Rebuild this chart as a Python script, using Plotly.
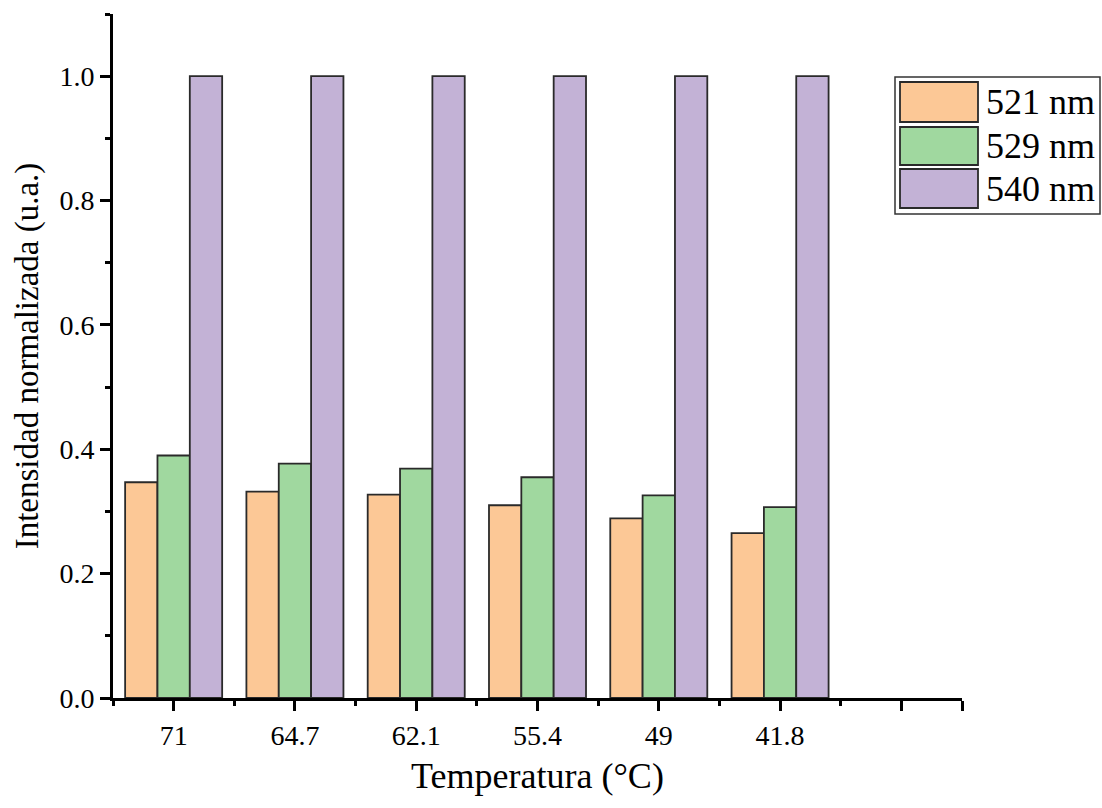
import plotly.graph_objects as go

categories = ["71", "64.7", "62.1", "55.4", "49", "41.8"]
series_names = ["521 nm", "529 nm", "540 nm"]
v521 = [0.347, 0.332, 0.327, 0.310, 0.289, 0.265]
v529 = [0.390, 0.377, 0.369, 0.355, 0.326, 0.307]
v540 = [1.0, 1.0, 1.0, 1.0, 1.0, 1.0]
colors = ["#FCC896", "#A0D89F", "#C3B2D6"]

W, H = 1102, 808
L, R, T, B = 113, 140, 14, 110
pw, ph = W - L - R, H - T - B

def px(x):
    return (x - L) / pw

def py(y):
    return (H - B - y) / ph

xs = list(range(len(categories)))
fig = go.Figure()
for name, vals, c in zip(series_names, [v521, v529, v540], colors):
    fig.add_trace(go.Bar(x=xs, y=vals, name=name, marker=dict(color=c, line=dict(color="#2a2a2a", width=1.8)),
                         showlegend=False))

serif = "Liberation Serif, Times New Roman, serif"
tickvals = list(range(len(categories) + 1)) + [len(categories) + 0.5]
ticktext = categories + ["", ""]

fig.update_layout(
    width=W, height=H,
    margin=dict(l=L, r=R, t=T, b=B),
    paper_bgcolor="white", plot_bgcolor="white",
    barmode="group", bargap=0.2, bargroupgap=0,
    font=dict(family=serif, color="black", size=28),
)
fig.update_xaxes(
    range=[-0.5, len(categories) + 0.5],
    tickmode="array", tickvals=tickvals, ticktext=ticktext,
    ticks="outside", ticklen=10, tickwidth=2.5, tickcolor="black",
    minor=dict(tickmode="linear", tick0=0.5, dtick=1, ticks="outside", ticklen=5, tickwidth=2.5, tickcolor="black"),
    showline=True, linecolor="black", linewidth=2.8, showgrid=False, zeroline=False,
    tickfont=dict(family=serif, size=28),
    title=dict(text="Temperatura (°C)", font=dict(family=serif, size=36), standoff=14),
)
fig.update_yaxes(
    range=[0, 1.1], tick0=0, dtick=0.2, tickformat=".1f",
    ticks="outside", ticklen=10, tickwidth=2.5, tickcolor="black",
    minor=dict(tick0=0, dtick=0.1, ticks="outside", ticklen=5, tickwidth=2.5, tickcolor="black"),
    showline=True, linecolor="black", linewidth=2.8, showgrid=False, zeroline=False,
    tickfont=dict(family=serif, size=28),
    title=dict(text="Intensidad normalizada (u.a.)", font=dict(family=serif, size=33), standoff=11),
)

# manual legend
fig.add_shape(type="rect", xref="paper", yref="paper", x0=px(895), x1=px(1100), y0=py(214), y1=py(77),
              line=dict(color="#333333", width=1.5), fillcolor="white")
rows = [(82, 122), (127, 165), (169, 208)]
for (y0, y1), name, c in zip(rows, series_names, colors):
    fig.add_shape(type="rect", xref="paper", yref="paper", x0=px(900), x1=px(978), y0=py(y1), y1=py(y0),
                  line=dict(color="#2a2a2a", width=1.8), fillcolor=c)
    fig.add_annotation(xref="paper", yref="paper", x=px(984), y=py((y0 + y1) / 2), text=name,
                       showarrow=False, xanchor="left", yanchor="middle", font=dict(family=serif, size=36))

fig.write_html("out.html", config={"displayModeBar": False},
               post_script="document.body.style.margin='0';document.body.style.overflow='hidden';")
